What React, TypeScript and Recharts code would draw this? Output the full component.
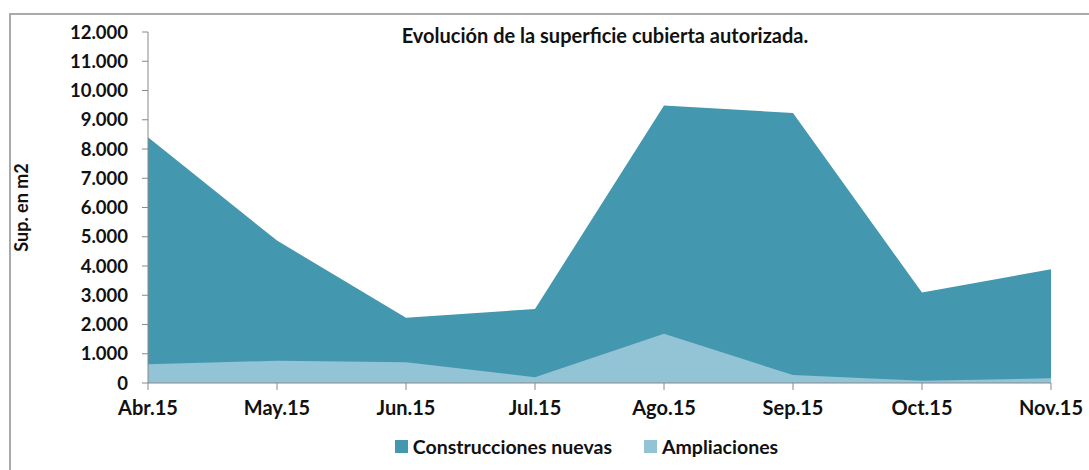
import { AreaChart, Area, XAxis, YAxis, Legend } from 'recharts'

// Months shown on the x axis
const MONTHS = ['Abr.15', 'May.15', 'Jun.15', 'Jul.15', 'Ago.15', 'Sep.15', 'Oct.15', 'Nov.15']

// m2 authorized per month
const NUEVAS = [8400, 4870, 2230, 2530, 9490, 9230, 3090, 3890]
const AMPLIACIONES = [640, 760, 710, 200, 1680, 270, 80, 160]

const Y_TICKS = [0, 1000, 2000, 3000, 4000, 5000, 6000, 7000, 8000, 9000, 10000, 11000, 12000]

const DARK = '#4398b0'
const LIGHT = '#93c4d5'
const FONT = 'Lato, "Open Sans", sans-serif'

const data = MONTHS.map((m, i) => ({ mes: m, nuevas: NUEVAS[i], ampliaciones: AMPLIACIONES[i] }))

// 12000 -> "12.000"
const fmt = (v: number) => String(v).replace(/\B(?=(\d{3})+(?!\d))/g, '.')

function LegendBox() {
  const items = [
    { label: 'Construcciones nuevas', color: DARK },
    { label: 'Ampliaciones', color: LIGHT },
  ]
  return (
    <div style={{ height: 24, display: 'flex', justifyContent: 'center', alignItems: 'center', gap: 32, fontFamily: FONT, fontWeight: 700, fontSize: 19.5, color: '#111', paddingLeft: 122 }}>
      {items.map(it => (
        <span key={it.label} style={{ display: 'flex', alignItems: 'center' }}>
          <span style={{ width: 13, height: 13, background: it.color, marginRight: 5, display: 'inline-block' }} />
          {it.label}
        </span>
      ))}
    </div>
  )
}

export default function App() {
  return (
    <div style={{ position: 'absolute', left: 0, top: 0, width: 1089, height: 470, background: '#fff', overflow: 'hidden' }}>
      <div style={{ position: 'absolute', left: 9, top: 13, width: 1200, height: 600, borderLeft: '2px solid #aaa', borderTop: '2px solid #aaa' }} />
      <div style={{ position: 'absolute', left: 0, width: 1210, top: 22, lineHeight: '26px', textAlign: 'center', fontFamily: FONT, fontWeight: 700, fontSize: 20, color: '#111' }}>
        Evolución de la superficie cubierta autorizada.
      </div>
      <AreaChart width={1089} height={470} data={data} margin={{ top: 32, right: 38, bottom: 12, left: 0 }}>
        <XAxis
          dataKey="mes"
          height={51}
          axisLine={{ stroke: '#888' }}
          tickLine={{ stroke: '#888' }}
          tickSize={7}
          tickMargin={11}
          tick={{ fill: '#111', fontFamily: FONT, fontWeight: 700, fontSize: 20 }}
          interval={0}
        />
        <YAxis
          width={148}
          domain={[0, 12000]}
          ticks={Y_TICKS}
          tickFormatter={fmt}
          axisLine={{ stroke: '#888' }}
          tickLine={{ stroke: '#888' }}
          tickSize={6}
          tickMargin={14}
          tick={{ fill: '#111', fontFamily: FONT, fontWeight: 700, fontSize: 18.5 }}
          label={{ value: 'Sup. en m2', angle: -90, position: 'insideLeft', offset: 22, style: { textAnchor: 'middle', fill: '#111', fontFamily: FONT, fontWeight: 700, fontSize: 18 } }}
        />
        <Area dataKey="nuevas" name="Construcciones nuevas" type="linear" stroke="none" fill={DARK} fillOpacity={1} isAnimationActive={false} />
        <Area dataKey="ampliaciones" name="Ampliaciones" type="linear" stroke="none" fill={LIGHT} fillOpacity={1} isAnimationActive={false} />
        <Legend verticalAlign="bottom" content={() => <LegendBox />} />
      </AreaChart>
    </div>
  )
}
